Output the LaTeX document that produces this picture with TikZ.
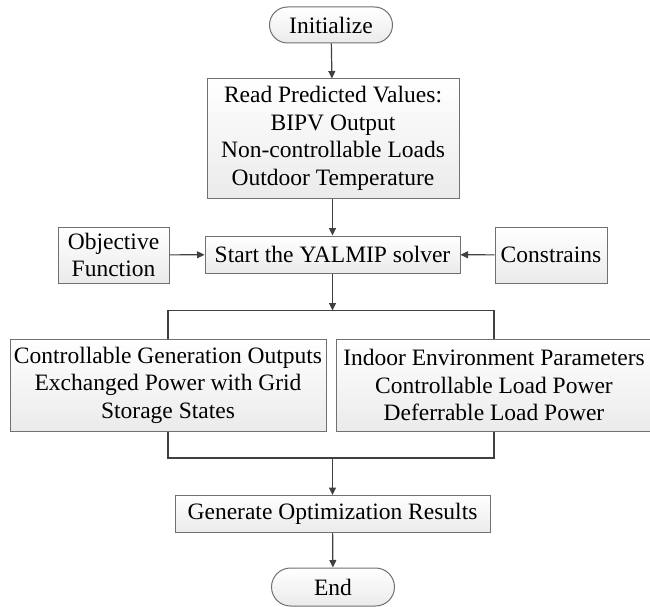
\documentclass[tikz,border=0pt]{standalone}
\usepackage{fontspec}
\setmainfont{Liberation Serif}
\newfontfamily\tnr{Liberation Serif}
\usetikzlibrary{shapes.misc,arrows.meta}
\definecolor{boxline}{HTML}{707070}
\definecolor{arrline}{HTML}{404040}
\begin{document}
\begin{tikzpicture}[x=1pt,y=-1pt,
  every node/.style={font=\tnr\fontsize{23.5}{27.5}\selectfont, align=center, inner sep=0pt},
  procbox/.style={rectangle, draw=boxline, line width=1pt, top color=white, bottom color=black!8},
  termbox/.style={rounded rectangle, draw=boxline, line width=1pt, top color=white, bottom color=black!8},
  arr/.style={draw=arrline, line width=1.2pt, -{Triangle[length=7.5pt,width=7pt]}},
  ln/.style={draw=arrline, line width=1.2pt}]
\useasboundingbox (0,0) rectangle (650,607);
\node[termbox, minimum width=123pt, minimum height=36pt] (init) at (331,25) {Initialize};
\node[procbox, minimum width=252pt, minimum height=119pt] (read) at (333,138.5)
  {Read Predicted Values:\\BIPV Output\\Non-controllable Loads\\Outdoor Temperature};
\node[procbox, minimum width=111pt, minimum height=56pt] (obj) at (113.5,255) {Objective\\Function};
\node[procbox, minimum width=255pt, minimum height=37pt] (yal) at (332.5,254.5) {Start the YALMIP solver};
\node[procbox, minimum width=112pt, minimum height=56pt] (con) at (551,255) {Constrains};
\node[procbox, minimum width=316pt, minimum height=92pt] (left) at (168,385)
  {Controllable Generation Outputs\\Exchanged Power with Grid\\Storage States};
\node[procbox, minimum width=316pt, minimum height=92pt] (right) at (494,385)
  {Indoor Environment Parameters\\Controllable Load Power\\Deferrable Load Power};
\node[procbox, minimum width=315pt, minimum height=37pt] (gen) at (332.5,514) {Generate Optimization Results};
\node[termbox, minimum width=123pt, minimum height=38pt] (end) at (333,587) {End};
\coordinate (s) at (332.5,310.5);
\coordinate (j) at (332.5,458);
\draw[arr] (init) -- (read);
\draw[arr] (read.south -| yal.north) -- (yal.north);
\draw[arr] (obj) -- (yal);
\draw[arr] (con) -- (yal);
\draw[arr] (yal) -- (s);
\draw[ln] (left.north) |- (s) -| (right.north);
\draw[ln] (left.south) |- (j) -| (right.south);
\draw[arr] (j) -- (gen);
\draw[arr] (gen) -- (end);
\end{tikzpicture}
\end{document}
